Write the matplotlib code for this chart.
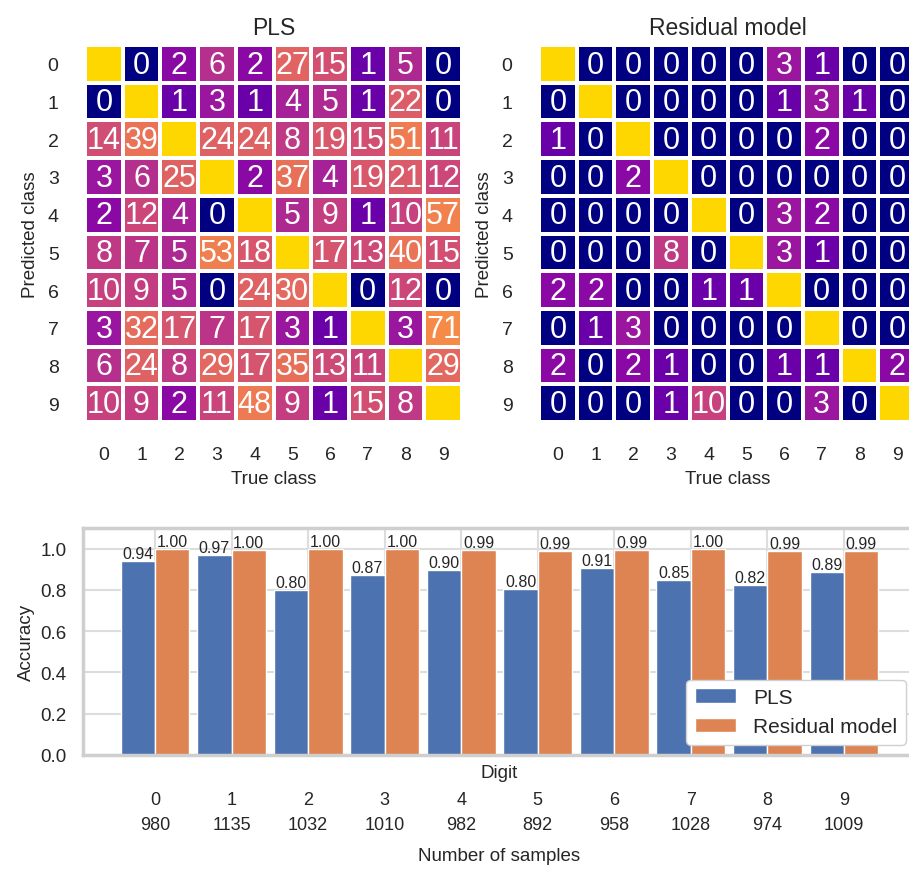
import numpy as np
import matplotlib
matplotlib.use('Agg')
import matplotlib.pyplot as plt
import matplotlib.colors as mcolors
import seaborn as sns

sns.set_theme(style='whitegrid')
plt.rcParams['font.family'] = ['Liberation Sans', 'DejaVu Sans']

######## DATA ############
digits = list(range(10))
n_samples = [980, 1135, 1032, 1010, 982, 892, 958, 1028, 974, 1009]

# off-diagonal confusion counts, diagonal filled in below
pls_conf = np.array([
    [0, 0, 2, 6, 2, 27, 15, 1, 5, 0],
    [0, 0, 1, 3, 1, 4, 5, 1, 22, 0],
    [14, 39, 0, 24, 24, 8, 19, 15, 51, 11],
    [3, 6, 25, 0, 2, 37, 4, 19, 21, 12],
    [2, 12, 4, 0, 0, 5, 9, 1, 10, 57],
    [8, 7, 5, 53, 18, 0, 17, 13, 40, 15],
    [10, 9, 5, 0, 24, 30, 0, 0, 12, 0],
    [3, 32, 17, 7, 17, 3, 1, 0, 3, 71],
    [6, 24, 8, 29, 17, 35, 13, 11, 0, 29],
    [10, 9, 2, 11, 48, 9, 1, 15, 8, 0],
])
res_conf = np.array([
    [0, 0, 0, 0, 0, 0, 3, 1, 0, 0],
    [0, 0, 0, 0, 0, 0, 1, 3, 1, 0],
    [1, 0, 0, 0, 0, 0, 0, 2, 0, 0],
    [0, 0, 2, 0, 0, 0, 0, 0, 0, 0],
    [0, 0, 0, 0, 0, 0, 3, 2, 0, 0],
    [0, 0, 0, 8, 0, 0, 3, 1, 0, 0],
    [2, 2, 0, 0, 1, 1, 0, 0, 0, 0],
    [0, 1, 3, 0, 0, 0, 0, 0, 0, 0],
    [2, 0, 2, 1, 0, 0, 1, 1, 0, 2],
    [0, 0, 0, 1, 10, 0, 0, 3, 0, 0],
])

for conf in (pls_conf, res_conf):
    conf[digits, digits] = np.array(n_samples) - conf.sum(axis=1)

pls_acc = np.diag(pls_conf) / np.array(n_samples)
res_acc = np.diag(res_conf) / np.array(n_samples)
##############################

W, H = 909, 870
fig = plt.figure(figsize=(W / 100, H / 100), dpi=100)

cmap = plt.get_cmap('plasma').copy()
cmap.set_bad('navy')
cmap.set_over('gold')
norm = mcolors.LogNorm(vmin=0.2, vmax=700)

def draw_conf(ax, conf, title):
    vals = np.ma.masked_equal(conf.astype(float), 0)
    ax.pcolormesh(np.arange(11), np.arange(11), vals, cmap=cmap, norm=norm,
                  edgecolors='white', linewidth=1.5)
    for i in range(10):
        for j in range(10):
            if i != j:
                ax.text(j + 0.5, i + 0.52, str(conf[i, j]), ha='center', va='center',
                        color='white', fontsize=22)
    ax.set_xlim(0, 10)
    ax.set_ylim(10, 0)
    ax.grid(False)
    for s in ax.spines.values():
        s.set_visible(False)
    ax.set_xticks(np.arange(10) + 0.5, labels=digits)
    ax.set_yticks(np.arange(10) + 0.5, labels=digits)
    ax.tick_params(axis='x', pad=17, labelsize=14, length=0)
    ax.tick_params(axis='y', pad=19, labelsize=14, length=0)
    ax.set_xlabel('True class', fontsize=13.5, labelpad=5)
    ax.set_ylabel('Predicted class', fontsize=13.5, labelpad=6)
    ax.set_title(title, fontsize=16.5, pad=8)

ax1 = fig.add_axes([85 / W, 1 - 423 / H, 377 / W, 377 / H])
draw_conf(ax1, pls_conf, 'PLS')
ax2 = fig.add_axes([539 / W, 1 - 423 / H, 377 / W, 377 / H])
draw_conf(ax2, res_conf, 'Residual model')

######## ACCURACY BARS ############
ax3 = fig.add_axes([83 / W, 1 - 756 / H, 833 / W, 227 / H])
x = np.arange(10)
b1 = ax3.bar(x - 0.225, pls_acc, width=0.45, color='#4C72B0', edgecolor='white',
             linewidth=1, label='PLS', zorder=2)
b2 = ax3.bar(x + 0.225, res_acc, width=0.45, color='#DD8452', edgecolor='white',
             linewidth=1, label='Residual model', zorder=2)
ax3.bar_label(b1, fmt='%.2f', fontsize=11.5, padding=0)
ax3.bar_label(b2, fmt='%.2f', fontsize=11.5, padding=0)
ax3.set_xlim(-0.94, 9.94)
ax3.set_ylim(0, 1.1)
ax3.set_xticks(x, labels=[f'{d}\n{n}' for d, n in zip(digits, n_samples)])
for lbl in ax3.get_xticklabels():
    lbl.set_linespacing(1.6)
ax3.tick_params(axis='x', pad=26, labelsize=13, length=0)
ax3.tick_params(axis='y', labelsize=13.5, pad=6)
ax3.grid(True, color='#dddddd', linewidth=1.5, zorder=0)
ax3.set_axisbelow(True)
for s in ax3.spines.values():
    s.set_color('#cfcfcf')
    s.set_linewidth(2.5)
ax3.text(0.5, -0.075, 'Digit', transform=ax3.transAxes, ha='center', va='center',
         fontsize=13.5, color='#262626')
ax3.set_xlabel('Number of samples', fontsize=13.5, labelpad=10)
ax3.set_ylabel('Accuracy', fontsize=13.5)
ax3.legend(loc='lower right', fontsize=15, framealpha=1, edgecolor='#d0d0d0')

plt.savefig('out.png', dpi=100)
